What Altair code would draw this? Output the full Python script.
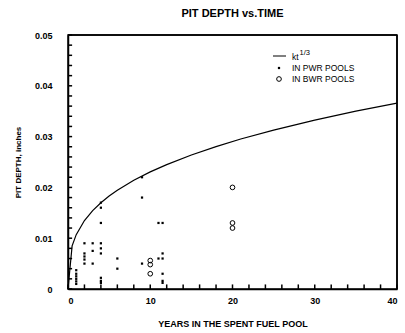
import altair as alt
import pandas as pd

# kt^(1/3) curve, values (k ~ 0.0107)
curve_t = [0, 0.5, 1, 2, 3, 4, 5, 6, 8, 10, 12, 15, 18, 21, 25, 30, 35, 40]
curve_d = [0, 0.0085, 0.0107, 0.01348, 0.01543, 0.01698, 0.0183, 0.01944, 0.0214,
           0.02305, 0.02449, 0.02639, 0.02804, 0.02952, 0.03129, 0.03324, 0.035, 0.03659]

# pits in PWR pools
pwr_years = [1, 1, 1, 1, 1, 1,
             2, 2, 2, 2, 2,
             3, 3, 3,
             4, 4, 4, 4, 4, 4, 4, 4, 4,
             6, 6,
             9, 9, 9,
             11, 11,
             11.5, 11.5, 11.5, 11.5, 11.5, 11.5]
pwr_depth = [0.001, 0.0015, 0.002, 0.0025, 0.003, 0.0037,
             0.009, 0.007, 0.0064, 0.0058, 0.005,
             0.009, 0.0075, 0.005,
             0.017, 0.016, 0.013, 0.009, 0.008, 0.007, 0.0022, 0.0016, 0.0012,
             0.006, 0.004,
             0.022, 0.018, 0.005,
             0.013, 0.006,
             0.013, 0.007, 0.006, 0.003, 0.0016, 0.0012]

# pits in BWR pools
bwr_years = [10, 10, 10, 20, 20, 20]
bwr_depth = [0.0056, 0.0048, 0.003, 0.020, 0.013, 0.012]

y_label_values = [0, 0.01, 0.02, 0.03, 0.04, 0.05]
x_label_values = [0, 10, 20, 30, 40]
y_tick_values = [round(i * 0.002, 3) for i in range(26)]
x_tick_values = list(range(0, 41, 2))

FONT = "Liberation Sans"
W, H = 329, 254

curve_df = pd.DataFrame({"t": curve_t, "d": curve_d})
pwr_df = pd.DataFrame({"t": pwr_years, "d": pwr_depth})
bwr_df = pd.DataFrame({"t": bwr_years, "d": bwr_depth})
yt_df = pd.DataFrame({"d": y_tick_values, "x0": [0.0] * 26, "x1": [0.5] * 26})
xt_df = pd.DataFrame({"t": x_tick_values, "y0": [0.0] * 21, "y1": [0.0009] * 21})
frame_df = pd.DataFrame({"t": [0, 40], "t2": [40, 40], "d": [0.05, 0.0], "d2": [0.05, 0.05]})

xs = alt.Scale(domain=[0, 40], nice=False)
ys = alt.Scale(domain=[0, 0.05], nice=False)

x_axis = alt.Axis(values=x_label_values, title="YEARS IN THE SPENT FUEL POOL",
                  ticks=False, labelPadding=7, titlePadding=14, grid=False,
                  labelFont=FONT, labelFontSize=9, labelFontWeight="bold",
                  titleFont=FONT, titleFontSize=9, titleFontWeight="bold",
                  domainColor="black", domainWidth=1.5,
                  labelColor="black", titleColor="black")
y_axis = alt.Axis(values=y_label_values, title="PIT DEPTH, inches",
                  labelExpr="datum.value == 0 ? '0' : format(datum.value, '.2f')",
                  ticks=False, labelPadding=16, titlePadding=12, grid=False,
                  labelFont=FONT, labelFontSize=9, labelFontWeight="bold",
                  titleFont=FONT, titleFontSize=8, titleFontWeight="bold",
                  domainColor="black", domainWidth=1.5,
                  labelColor="black", titleColor="black")

curve = alt.Chart(curve_df).mark_line(color="black", strokeWidth=1.2).encode(
    x=alt.X("t:Q", scale=xs, axis=x_axis),
    y=alt.Y("d:Q", scale=ys, axis=y_axis),
)

pwr = alt.Chart(pwr_df).mark_square(color="black", size=5, opacity=1).encode(
    x=alt.X("t:Q", scale=xs), y=alt.Y("d:Q", scale=ys))

bwr = alt.Chart(bwr_df).mark_point(shape="circle", color="black", size=22,
                                    strokeWidth=1, filled=False, opacity=1).encode(
    x=alt.X("t:Q", scale=xs), y=alt.Y("d:Q", scale=ys))

ytick = alt.Chart(yt_df).mark_rule(color="black", strokeWidth=1.5).encode(
    y=alt.Y("d:Q", scale=ys), x=alt.X("x0:Q", scale=xs), x2="x1:Q")
xtick = alt.Chart(xt_df).mark_rule(color="black", strokeWidth=1.5).encode(
    x=alt.X("t:Q", scale=xs), y=alt.Y("y0:Q", scale=ys), y2="y1:Q")
frame = alt.Chart(frame_df).mark_rule(color="black", strokeWidth=1.5).encode(
    x=alt.X("t:Q", scale=xs), x2="t2:Q", y=alt.Y("d:Q", scale=ys), y2="d2:Q")

# legend (manual)
one = pd.DataFrame({"a": [0]})
leg_line = alt.Chart(one).mark_rule(color="black", strokeWidth=1).encode(
    x=alt.value(205), x2=alt.value(218), y=alt.value(21))
leg_kt = alt.Chart(one).mark_text(
    text="kt", font=FONT, fontSize=8.5, align="left", baseline="middle", color="black").encode(
    x=alt.value(224), y=alt.value(22))
leg_sup = alt.Chart(one).mark_text(
    text="1/3", font=FONT, fontSize=7.5, align="left", baseline="middle", color="black").encode(
    x=alt.value(231.5), y=alt.value(18))
leg_pwr_sym = alt.Chart(one).mark_square(color="black", size=5, opacity=1).encode(
    x=alt.value(211), y=alt.value(33))
leg_pwr_txt = alt.Chart(one).mark_text(
    text="IN PWR POOLS", font=FONT, fontSize=8.5, align="left", baseline="middle", color="black").encode(
    x=alt.value(224), y=alt.value(33))
leg_bwr_sym = alt.Chart(one).mark_point(
    shape="circle", color="black", size=22, strokeWidth=1, filled=False, opacity=1).encode(
    x=alt.value(211), y=alt.value(44))
leg_bwr_txt = alt.Chart(one).mark_text(
    text="IN BWR POOLS", font=FONT, fontSize=8.5, align="left", baseline="middle", color="black").encode(
    x=alt.value(224), y=alt.value(44))

chart = alt.layer(
    curve, pwr, bwr, ytick, xtick, frame,
    leg_line, leg_kt, leg_sup, leg_pwr_sym, leg_pwr_txt, leg_bwr_sym, leg_bwr_txt,
).properties(
    width=W, height=H,
    title=alt.TitleParams("PIT DEPTH vs.TIME", font=FONT, fontSize=11, fontWeight="bold",
                          anchor="middle", color="black", offset=12),
    autosize="none",
    padding={"left": 68, "top": 35, "right": 8, "bottom": 44},
    background="white",
).configure_view(stroke="black", strokeWidth=1.5)

chart.save("out.html", embed_options={"renderer": "svg", "actions": False})
